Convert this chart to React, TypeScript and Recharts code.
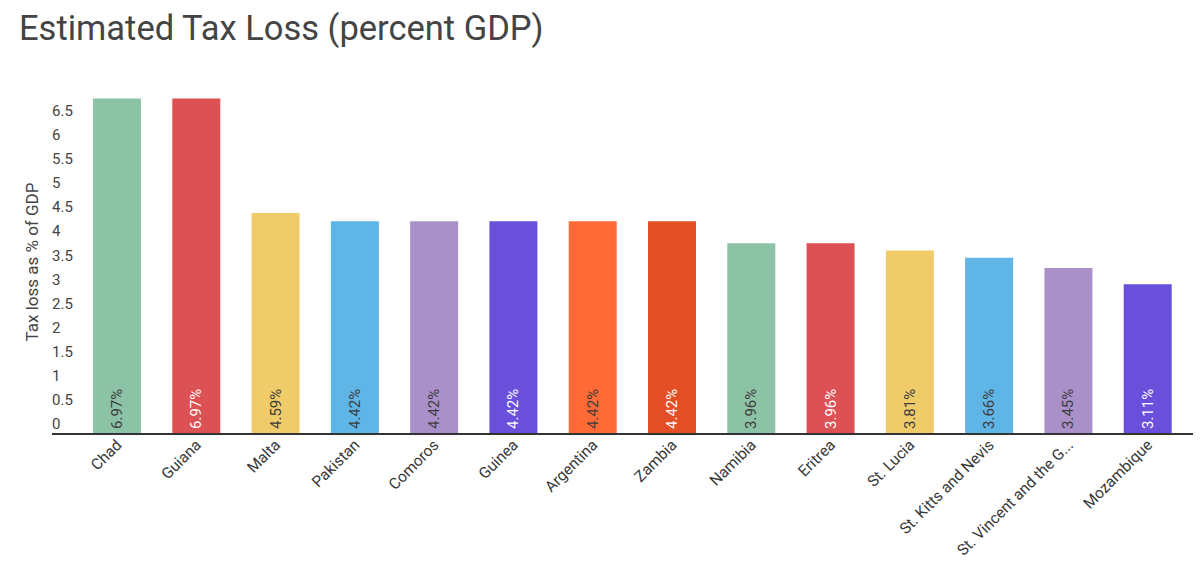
import React from 'react';
import { BarChart, Bar, XAxis, YAxis, Cell, LabelList } from 'recharts';

const countries = [
    'Chad', 'Guiana', 'Malta', 'Pakistan', 'Comoros', 'Guinea', 'Argentina',
    'Zambia', 'Namibia', 'Eritrea', 'St. Lucia', 'St. Kitts and Nevis',
    'St. Vincent and the Grenadines', 'Mozambique',
];
const taxLoss = [6.97, 6.97, 4.59, 4.42, 4.42, 4.42, 4.42, 4.42, 3.96, 3.96, 3.81, 3.66, 3.45, 3.11];
const yTicks = [0, 0.5, 1, 1.5, 2, 2.5, 3, 3.5, 4, 4.5, 5, 5.5, 6, 6.5];

const barColors = [
    '#8cc2a6', '#dc5254', '#efcb6a', '#5eb5e6', '#a990c8', '#6a4fdb', '#ff6a36',
    '#e44e24', '#8cc2a6', '#dc5254', '#efcb6a', '#5eb5e6', '#a990c8', '#6a4fdb',
];
const labelColors = [
    '#3c3c3c', '#ffffff', '#3c3c3c', '#3c3c3c', '#3c3c3c', '#ffffff', '#3c3c3c',
    '#ffffff', '#3c3c3c', '#ffffff', '#3c3c3c', '#3c3c3c', '#3c3c3c', '#ffffff',
];

const data = countries.map((name, i) => ({ name, value: taxLoss[i] }));

const FONT = 'Roboto, sans-serif';
const PLOT_LEFT = 52;

const shorten = (s: string) => (s.length > 22 ? s.slice(0, 21) + '...' : s);

function XTick(props: any) {
    const { x, y, payload } = props;
    return (
        <text
            x={x + 6}
            y={y + 10}
            transform={`rotate(-45, ${x + 6}, ${y + 10})`}
            textAnchor="end"
            fontFamily={FONT}
            fontSize={15.5}
            fill="#383838"
        >
            {shorten(payload.value)}
        </text>
    );
}

function YTick(props: any) {
    const { y, payload } = props;
    return (
        <text x={PLOT_LEFT} y={y - 5} textAnchor="start" fontFamily={FONT} fontSize={15} fill="#444">
            {String(payload.value)}
        </text>
    );
}

function ValueLabel(props: any) {
    const { x, y, width, height, value, index } = props;
    const cx = x + width / 2 + 5;
    const by = y + height - 5;
    return (
        <text
            x={cx}
            y={by}
            transform={`rotate(-90, ${cx}, ${by})`}
            textAnchor="start"
            fontFamily={FONT}
            fontSize={15}
            fill={labelColors[index]}
        >
            {value.toFixed(2) + '%'}
        </text>
    );
}

export default function App() {
    return (
        <div style={{ position: 'absolute', left: 0, top: 0, width: 1200, height: 574, background: '#fff' }}>
            <div
                style={{
                    position: 'absolute', left: 19, top: 9, fontFamily: FONT, fontSize: 34.5,
                    lineHeight: '38px', color: '#444', whiteSpace: 'nowrap',
                }}
            >
                Estimated Tax Loss (percent GDP)
            </div>
            <BarChart
                width={1200}
                height={574}
                data={data}
                margin={{ top: 97, right: 7, bottom: 0, left: 0 }}
                style={{ position: 'absolute', left: 0, top: 0 }}
            >
                <XAxis
                    dataKey="name"
                    interval={0}
                    padding={{ left: 25, right: 6 }}
                    tickLine={false}
                    tickSize={0}
                    axisLine={{ stroke: '#333', strokeWidth: 2 }}
                    tick={<XTick />}
                    height={140}
                />
                <YAxis
                    width={PLOT_LEFT}
                    domain={[0, 7]}
                    ticks={yTicks}
                    axisLine={false}
                    tickLine={false}
                    tick={<YTick />}
                    label={() => (
                        <text
                            x={38}
                            y={262}
                            transform="rotate(-90, 38, 262)"
                            textAnchor="middle"
                            fontFamily={FONT}
                            fontSize={17}
                            fill="#444"
                        >
                            Tax loss as % of GDP
                        </text>
                    )}
                />
                <Bar dataKey="value" barSize={48} isAnimationActive={false}>
                    {data.map((d, i) => (
                        <Cell key={d.name} fill={barColors[i]} />
                    ))}
                    <LabelList dataKey="value" content={<ValueLabel />} />
                </Bar>
            </BarChart>
        </div>
    );
}
